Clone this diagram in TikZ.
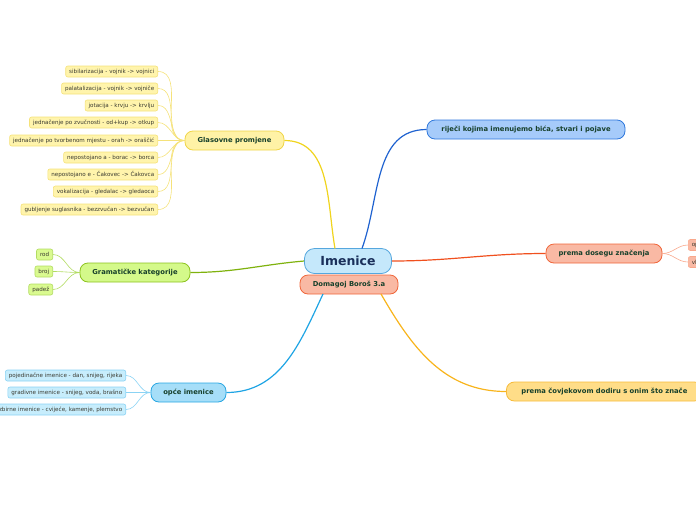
\documentclass[tikz,border=0pt]{standalone}
\usepackage{fontspec}
\setmainfont{DejaVu Sans}
\usetikzlibrary{positioning}
\definecolor{ink}{HTML}{17402B}
\definecolor{navy}{HTML}{1A2F5A}
\definecolor{leafink}{HTML}{3A3A30}
\definecolor{skyfill}{HTML}{C5E8FB}
\definecolor{skyline}{HTML}{55A7DE}
\definecolor{salmon}{HTML}{F9B9A4}
\definecolor{coral}{HTML}{F0663A}
\definecolor{coralarc}{HTML}{F0501E}
\definecolor{bluefill}{HTML}{A6CBFA}
\definecolor{blueline}{HTML}{2F78DC}
\definecolor{bluearc}{HTML}{1F62D0}
\definecolor{goldfill}{HTML}{FFDD88}
\definecolor{goldline}{HTML}{F7BB3A}
\definecolor{goldarc}{HTML}{F8B41C}
\definecolor{cyanfill}{HTML}{A6DEF8}
\definecolor{cyanline}{HTML}{28A6E2}
\definecolor{cyanarc}{HTML}{1EA4E4}
\definecolor{cyanleaf}{HTML}{C7EDFC}
\definecolor{cyanedge}{HTML}{8AD3F4}
\definecolor{limefill}{HTML}{D4F98A}
\definecolor{limeline}{HTML}{8CC21E}
\definecolor{limearc}{HTML}{7FB20E}
\definecolor{limeleaf}{HTML}{DAFA90}
\definecolor{limeedge}{HTML}{B2DC62}
\definecolor{yelfill}{HTML}{FFF2A6}
\definecolor{yelline}{HTML}{F0D548}
\definecolor{yelarc}{HTML}{F0D41E}
\definecolor{yelleaf}{HTML}{FFF4AC}
\definecolor{yeledge}{HTML}{F5E27A}
\definecolor{peachedge}{HTML}{F9A88C}
\tikzset{
  base/.style={rounded corners=8pt, align=center, inner xsep=6pt, inner ysep=0pt, minimum height=19pt, font=\fontsize{6.8}{8}\selectfont\bfseries, text=ink, line width=0.8pt},
  branch/.style 2 args={base, fill=#1, draw=#2},
  root/.style={base, fill=skyfill, draw=skyline, rounded corners=10pt, minimum height=25pt, minimum width=87pt, font=\fontsize{12.5}{14}\selectfont\bfseries, text=navy},
  leaf/.style 2 args={rounded corners=2pt, inner xsep=3.5pt, inner ysep=0pt, minimum height=11pt, font=\fontsize{5.6}{6}\selectfont, text=leafink, fill=#1, draw=#2, line width=0.6pt},
  arc/.style={line width=1.2pt, draw=#1},
  twig/.style={line width=0.6pt, draw=#1},
}
\begin{document}
\begin{tikzpicture}[x=1pt,y=1pt]
\useasboundingbox (0,0) rectangle (696,-520);
% centre
\node[root] (imen) at (348,-261) {Imenice};
\node[branch={salmon}{coral}, minimum width=98pt] (autor) at (349,-284.5) {Domagoj Boroš 3.a};
% main topics
\node[branch={bluefill}{blueline}, minimum width=198pt] (rijeci) at (526,-129.5) {riječi kojima imenujemo bića, stvari i pojave};
\node[branch={salmon}{coral}, minimum width=116pt] (doseg) at (604,-253.5) {prema dosegu značenja};
\node[branch={goldfill}{goldline}, minimum width=196pt, anchor=west] (dodir) at (506,-391.5) {prema čovjekovom dodiru s onim što znače};
\node[branch={cyanfill}{cyanline}, minimum width=75pt] (opce) at (188.5,-392.5) {opće imenice};
\node[branch={limefill}{limeline}, minimum width=110pt] (gram) at (135,-272.5) {Gramatičke kategorije};
\node[branch={yelfill}{yelline}, minimum width=99pt] (glas) at (234.5,-140.5) {Glasovne promjene};

\draw[arc=yelarc] (glas.east) to[out=0,in=100] (335,-248.5);
\draw[arc=bluearc] (362,-248.5) to[out=70,in=180] (rijeci.west);
\draw[arc=coralarc] (imen.east) to[out=0,in=180] (doseg.west);
\draw[arc=limearc] (imen.west) to[out=185,in=0] (gram.east);
\draw[arc=cyanarc] (323,-294) to[out=-115,in=0] (opce.east);
\draw[arc=goldarc] (381,-294) to[out=-60,in=180] (dodir.west);

% Glasovne promjene
\foreach \y/\t [count=\i] in {71.5/{sibilarizacija - vojnik -> vojnici},
    88.5/{palatalizacija - vojnik -> vojniče},
    105.5/{jotacija - krvju -> krvlju},
    122.5/{jednačenje po zvučnosti - od+kup -> otkup},
    140.5/{jednačenje po tvorbenom mjestu - orah -> oraščić},
    157.5/{nepostojano a - borac -> borca},
    174.5/{nepostojano e - Čakovec -> Čakovca},
    191.5/{vokalizacija - gledalac -> gledaoca},
    209.5/{gubljenje suglasnika - bezzvučan -> bezvučan}} {
  \node[leaf={yelleaf}{yeledge}, anchor=east] (g\i) at (158,-\y) {\t};
  \draw[twig=yeledge] (glas.west) to[out=180,in=0] (g\i.east);
}

% Gramaticke kategorije
\foreach \y/\t [count=\i] in {254.5/rod, 271.5/broj, 289.5/padež} {
  \node[leaf={limeleaf}{limeedge}, anchor=east] (k\i) at (53,-\y) {\t};
  \draw[twig=limeedge] (gram.west) to[out=180,in=0] (k\i.east);
}

% opce imenice
\foreach \y/\t [count=\i] in {375.5/{pojedinačne imenice - dan, snijeg, rijeka},
    392.5/{gradivne imenice - snijeg, voda, brašno},
    409.5/{zbirne imenice - cvijeće, kamenje, plemstvo}} {
  \node[leaf={cyanleaf}{cyanedge}, anchor=east] (o\i) at (126,-\y) {\t};
  \draw[twig=cyanedge] (opce.west) to[out=180,in=0] (o\i.east);
}

% prema dosegu
\foreach \y/\t [count=\i] in {245/{opće imenice}, 262/{vlastite imenice}} {
  \node[leaf={salmon}{peachedge}, anchor=west] (d\i) at (688,-\y) {\t};
  \draw[twig=peachedge] (doseg.east) to[out=0,in=180] (d\i.west);
}
\end{tikzpicture}
\end{document}
